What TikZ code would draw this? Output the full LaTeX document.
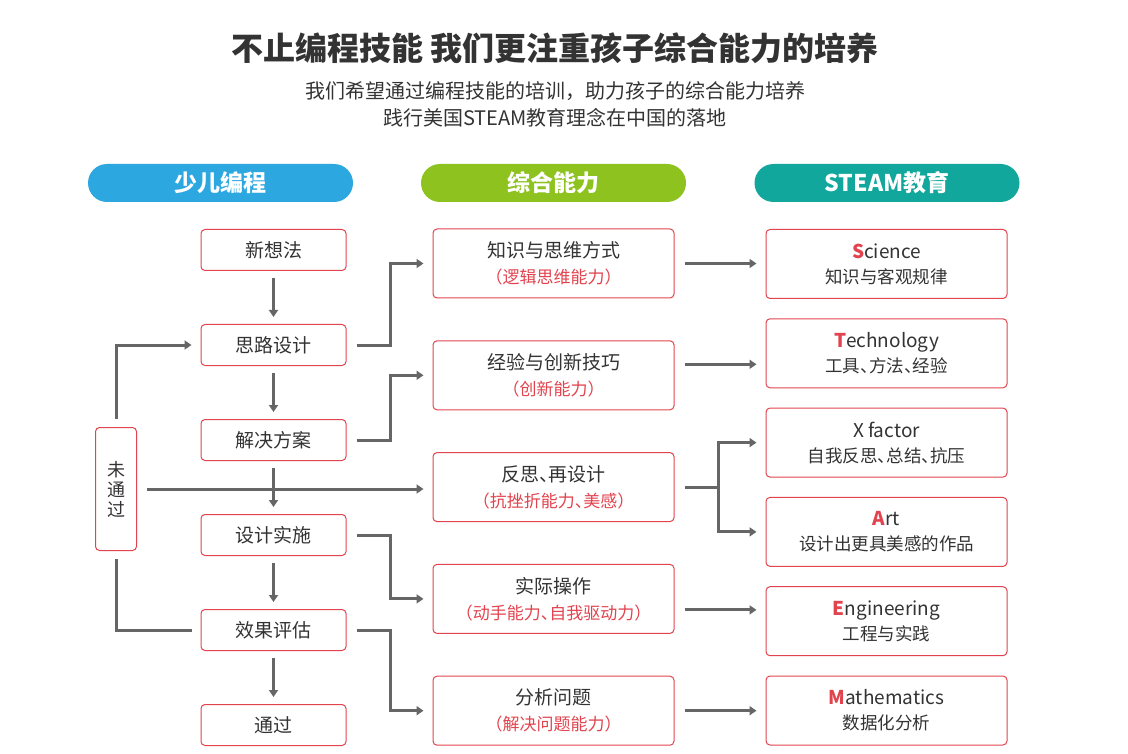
\documentclass[tikz,border=0pt]{standalone}
\usepackage{fontspec}
\setmainfont{Noto Sans CJK SC}
\newfontfamily\haltfont{Noto Sans CJK SC}[RawFeature=+halt]
\usetikzlibrary{positioning,arrows.meta}
\definecolor{boxred}{HTML}{E2444F}
\definecolor{txtgray}{HTML}{333333}
\definecolor{lngray}{HTML}{666666}
\definecolor{hblue}{HTML}{2DA7E0}
\definecolor{hgreen}{HTML}{8EC31F}
\definecolor{hteal}{HTML}{12A79C}
\tikzset{
  >={Triangle[width=9pt,length=7pt]},
  head/.style={rectangle, rounded corners=19pt, minimum width=265pt,
    minimum height=38pt, inner sep=0pt, text=white,
    font=\fontsize{23}{23}\selectfont\bfseries},
  box/.style={rectangle, rounded corners=4pt, draw=boxred, line width=1pt,
    fill=white, align=center, inner sep=0pt, text=txtgray},
  stepbox/.style={box, minimum width=145pt, minimum height=41pt,
    font=\fontsize{19}{19}\selectfont},
  skill/.style={box, minimum width=241pt, minimum height=69pt,
    font=\fontsize{19}{26}\selectfont},
  steam/.style={skill, font=\fontsize{19}{25}\selectfont},
  link/.style={draw=lngray, line width=3pt},
  flow/.style={link, ->, shorten <=10pt, shorten >=9pt},
  down/.style={flow, shorten <=7pt, shorten >=7pt},
}
\newcommand{\redsub}[1]{{\color{boxred}\fontsize{17}{17}\selectfont #1}}
\newcommand{\cnsub}[1]{{\fontsize{17.5}{17.5}\selectfont #1}}
\newcommand{\capl}[1]{{\color{boxred}\bfseries #1}}
\newcommand{\dun}{{\haltfont 、}}

\begin{document}
\begin{tikzpicture}[x=1pt, y=-1pt]
  \fill[white] (0,0) rectangle (1128,754);
  \useasboundingbox (0,0) rectangle (1128,754);

  \node[text=txtgray, font=\fontsize{32}{32}\selectfont\bfseries] (title) at (555,48)
    {不止编程技能 我们更注重孩子综合能力的培养};
  \node[text=txtgray, align=center, font=\fontsize{20}{27}\selectfont] (sub) at (555,104)
    {我们希望通过编程技能的培训，助力孩子的综合能力培养\\践行美国STEAM教育理念在中国的落地};

  \node[head, fill=hblue] (hcode) at (220.5,183) {少儿编程};
  \node[head, fill=hgreen] (hskill) at (553.5,183) {综合能力};
  \node[head, fill=hteal] (hsteam) at (887,183) {STEAM教育};

  \node[stepbox] (idea) at (273.5,250) {新想法};
  \node[stepbox, below=53pt of idea] (plan) {思路设计};
  \node[stepbox, below=53pt of plan] (solve) {解决方案};
  \node[stepbox, below=53pt of solve] (build) {设计实施};
  \node[stepbox, below=53pt of build] (eval) {效果评估};
  \node[stepbox, below=53pt of eval] (pass) {通过};
  \node[box, minimum width=41pt, minimum height=123pt,
    font=\fontsize{18}{20}\selectfont] (fail) at (116,489) {未\\通\\过};

  \node[skill] (logic) at (553.5,263.5) {知识与思维方式\\\redsub{（逻辑思维能力）}};
  \node[skill, below=41.8pt of logic] (innov) {经验与创新技巧\\\redsub{（创新能力）}};
  \node[skill, below=41.8pt of innov] (reflect) {反思\dun 再设计\\\redsub{（抗挫折能力\dun 美感）}};
  \node[skill, below=41.8pt of reflect] (practice) {实际操作\\\redsub{（动手能力\dun 自我驱动力）}};
  \node[skill, below=41.8pt of practice] (analysis) {分析问题\\\redsub{（解决问题能力）}};

  \node[steam] (sci) at (886.5,264) {\capl{S}cience\\\cnsub{知识与客观规律}};
  \node[steam, below=19.3pt of sci] (tech) {\capl{T}echnology\\\cnsub{工具\dun 方法\dun 经验}};
  \node[steam, below=19.3pt of tech] (xfac) {X factor\\\cnsub{自我反思\dun 总结\dun 抗压}};
  \node[steam, below=19.3pt of xfac] (art) {\capl{A}rt\\\cnsub{设计出更具美感的作品}};
  \node[steam, below=19.3pt of art] (eng) {\capl{E}ngineering\\\cnsub{工程与实践}};
  \node[steam, below=19.3pt of eng] (math) {\capl{M}athematics\\\cnsub{数据化分析}};

  \draw[down] (idea) -- (plan);
  \draw[down] (plan) -- (solve);
  \draw[down] (solve) -- (build);
  \draw[down] (build) -- (eval);
  \draw[down] (eval) -- (pass);

  \draw[flow, shorten <=8pt] (fail.north) |- (plan.west);
  \draw[link, shorten <=9pt, shorten >=8pt] (eval.west) -| (fail.south);
  \draw[flow] (fail.east) -- (fail.east -| reflect.west);

  \draw[flow] (plan.east) -- ++(44,0) |- (logic.west);
  \draw[flow] (solve.east) -- ++(44,0) |- (innov.west);
  \draw[flow] (build.east) -- ++(44,0) |- (practice.west);
  \draw[flow] (eval.east) -- ++(44,0) |- (analysis.west);

  \draw[flow] (logic.east) -- (logic.east -| sci.west);
  \draw[flow] ([yshift=11pt]innov.east) -- ([yshift=11pt]innov.east -| tech.west);
  \draw[link, shorten <=10pt] (reflect.east) -- ++(44,0) coordinate (fork);
  \draw[flow, shorten <=0pt] (fork) |- (xfac.west);
  \draw[flow, shorten <=0pt] (fork) |- (art.west);
  \draw[flow] ([yshift=-11pt]practice.east) -- ([yshift=-11pt]practice.east -| eng.west);
  \draw[flow] (analysis.east) -- (analysis.east -| math.west);
\end{tikzpicture}
\end{document}
